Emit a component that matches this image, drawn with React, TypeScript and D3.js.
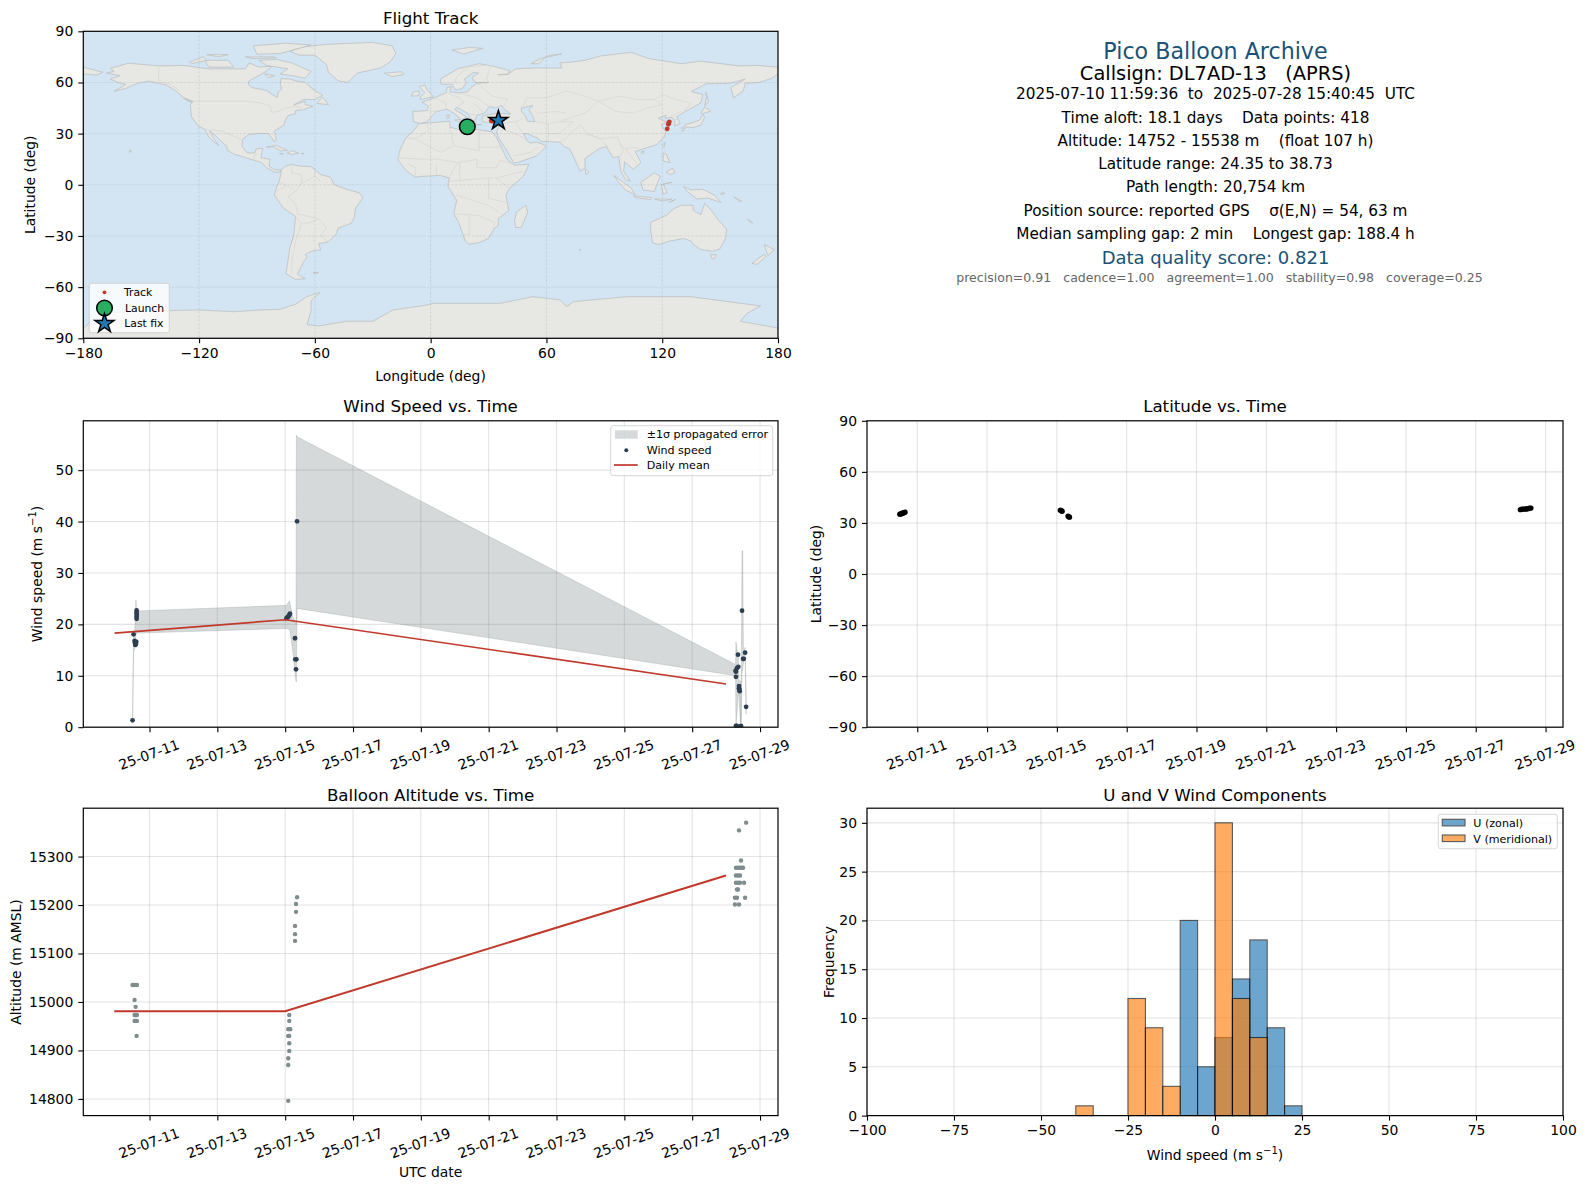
import * as d3 from "d3";
import { useEffect, useRef } from "react";

type Pt = [number, number];

// land outlines, [lon, lat]
const northAmerica: Pt[] = [[-168,65.5],[-164,66.5],[-166,68.3],[-156.5,71.3],[-141,69.7],[-128,70],[-115,68],[-108,68],[-96,68],[-94,71.5],[-89,69],[-82,69.5],[-86,66],[-94,61],[-94.5,58.7],[-92.5,57],[-85,55.3],[-82,52.9],[-79.5,51.3],[-79,54.5],[-77,56.5],[-78,59],[-77.5,62.3],[-73,62],[-70,61],[-65,60],[-61,56],[-56,52.5],[-60,50],[-66,50],[-71,46.8],[-65,49],[-65,47],[-61,46],[-66,44],[-70,43.5],[-70,41.7],[-74,40.5],[-75.5,37.5],[-76,35],[-81,31.5],[-80,26.5],[-81,25.2],[-82.7,28],[-84,30],[-89,30.2],[-94,29.5],[-97.3,27],[-97.8,22.5],[-95,18.7],[-91,18.7],[-90.5,21],[-87,21.5],[-88,16],[-83.3,15],[-83.8,11],[-81,9],[-77.5,8.7],[-78,7.5],[-81,7.5],[-85,10],[-87.5,13],[-92,14.5],[-96,16],[-102,18],[-105.5,20.5],[-105.5,22.5],[-109,26],[-112.5,30],[-114.7,31.7],[-112,26.5],[-109.7,23],[-112,25],[-115,28],[-117,32.5],[-120.5,34.5],[-124,40],[-124.5,47],[-123,49],[-128,51],[-132,55],[-137,58.5],[-146,60.8],[-152,59.5],[-158,56.5],[-164,54.8],[-158,58.8],[-162,60],[-166,62],[-161,64]];
const southAmerica: Pt[] = [[-77.5,8.7],[-75,11],[-72,12],[-68,11],[-62,10.7],[-57,6],[-52,4.5],[-50,0],[-44,-2.5],[-37,-4.7],[-35,-7.5],[-39,-14],[-39.5,-19],[-41,-22.5],[-48,-25.5],[-48.7,-28.5],[-53,-33.5],[-58,-34.5],[-57,-38],[-62,-39],[-65,-41],[-64,-42.5],[-66,-45.5],[-68,-50],[-69,-52.5],[-65,-55],[-70,-55.5],[-75,-52],[-74,-45],[-73,-37],[-71,-30],[-70,-18.5],[-76,-14],[-81,-6],[-80,-2],[-78.5,2],[-77.5,7]];
const africa: Pt[] = [[-6,35.8],[10,37.3],[10,33.8],[15,32.3],[19,30.3],[22,32.8],[32,31],[34,28],[37,21],[39.5,15],[43.3,11.5],[51,12],[48,5],[41,-2],[39,-6],[40.5,-15],[35,-20],[35,-24],[32.7,-26],[30,-31.5],[25,-34],[20,-34.8],[18,-33],[14.5,-22],[12,-17],[13.5,-9],[9,-1],[9.5,4],[5,5.5],[-4,5],[-8,4.5],[-13,8.5],[-17,14.7],[-16,20],[-13,27.5],[-9.5,31]];
const eurasia: Pt[] = [[-9,37],[-9.3,43],[-2,43.5],[-1,46],[-4.5,48.4],[2,51],[8,54],[8.5,57],[10.7,57.5],[10,54.5],[14,54],[19,54.5],[21,57],[24,59.5],[30,60],[23,60],[21.5,63],[25,65.5],[22,65.8],[17.5,62],[18.5,60],[16.5,56.5],[13,55.5],[11,59],[5.5,59],[5,62],[14,68],[25,71],[32,69.7],[41,67],[40,65],[35,64.5],[40,64.7],[44,68],[54,68.5],[68,68.5],[67,71.5],[73,72],[80,73],[88,75.5],[104,77.7],[113,74],[130,71],[140,72.5],[160,69.7],[170,70],[180,69],[180,65],[177,62.5],[170,60],[163,59.5],[162,55],[157,51],[155.5,57],[163,62],[155,59.5],[143,59.3],[135,54.7],[141,53],[140,48],[132,43],[127.5,39.8],[129.4,36],[126.5,34.5],[126.5,37.5],[125,39.7],[121.5,39],[122,40.8],[118,39],[122.5,37],[119.5,35],[122,31],[121,28],[117,23.5],[110,21],[106,19.5],[109,13],[105,9],[100.5,13.5],[100,8],[103.5,2],[101,3],[98.5,8],[97.5,16.5],[94.5,16],[91,22.5],[87,21],[80,15.5],[80,10],[77.5,8],[73,19],[72,21],[69,22.5],[67,25],[57,25.5],[56,27],[50,30],[48,30],[50,26],[51.5,24.5],[55,25],[58.7,23.5],[59.8,22.5],[55,17],[45,13],[43,13],[39,21],[35,28],[34.3,31.3],[36,36],[30,36.5],[27,37],[26.5,40],[29,41],[35,42],[41.5,41.5],[38,44.5],[37,46.5],[33.5,45],[30.5,46],[28,42],[24,40.8],[23,38],[23,36.7],[20,40],[19,42],[13.5,45.5],[12.5,44],[18.5,40],[16,38],[12,42],[8.5,44.3],[3,43],[0,39.5],[-2,36.8],[-5.5,36]];
const australia: Pt[] = [[114,-22],[122,-18],[126,-14],[130,-12],[136,-12],[136,-15],[140,-17.5],[142,-11],[145.5,-15],[149,-20.5],[153.3,-26],[153,-31],[150,-37.5],[146,-39],[140,-38],[136,-35],[135,-33],[131,-31.5],[124,-33],[118,-35],[115,-34],[114,-27]];
const antarctica: Pt[] = [[-180,-90],[-180,-84],[-170,-75],[-149,-74],[-119.5,-73.4],[-102,-74.4],[-88.5,-73.4],[-78,-73],[-70,-70],[-64,-65.5],[-57.5,-63.2],[-62,-68],[-62,-74],[-64,-82],[-58,-82.8],[-43.6,-80],[-30,-80],[-19.4,-73.4],[-2,-70.5],[1.4,-69.5],[36,-69.5],[53,-65.6],[67,-67.5],[70.5,-71.4],[74,-68.5],[101.9,-65.6],[134.7,-65.6],[171,-71],[164,-75.3],[160.5,-80],[180,-84],[180,-90]];
const islands: Pt[][] = [
  [[-73,78.3],[-66,80.8],[-55,82.3],[-30,83.5],[-20,81.5],[-18,77],[-21,72],[-26,68.5],[-38,65.5],[-43,60],[-48,61],[-53,66],[-54,70.5],[-60,76],[-68,76]],
  [[-80,73.5],[-72,71.5],[-62,66.5],[-65,62.5],[-72,64],[-78,65],[-74,68],[-85,70],[-89,73]],
  [[-117,73],[-105,73],[-102,69],[-115,69]],
  [[-90,76.5],[-78,77],[-62,82],[-75,83],[-92,81.5]],
  [[-125,72],[-118,75],[-116,73],[-124,71]],
  [[-96,75],[-82,75],[-80,74.5],[-92,74]],
  [[-116,76.3],[-105,76.3],[-110,75]],
  [[-86,65],[-81,64],[-84,62.8]],
  [[-59,47.7],[-56,51.5],[-53,47]],
  [[-128,50.8],[-123.5,48.4],[-125,48.7]],
  [[-85,22],[-80,23],[-74.2,20.2],[-77.7,19.9],[-82,22.4]],
  [[-74.4,18.5],[-72,20],[-68.4,18.6],[-71.5,17.8]],
  [[-78.3,18.4],[-76.3,18.2],[-77,17.8]],
  [[-67.2,18.5],[-65.7,18.3],[-66.5,17.9]],
  [[-156,19],[-155,19.8],[-156,20.3]],
  [[-180,69],[-175,67.5],[-170,66],[-173,64.3],[-180,65]],
  [[-5.5,50],[1.5,51.5],[0,53.5],[-2,56],[-3,58.6],[-6,57.5],[-3,54],[-5,52]],
  [[-10,52],[-6,52.3],[-6,55],[-9,54.5]],
  [[-24,65.5],[-15,66.3],[-14,64.7],[-20,63.4]],
  [[11,79],[20,80.5],[27,80],[17,76.7]],
  [[52,71],[57,74],[68,76.8],[60,75.5],[56,71]],
  [[12.5,38],[15.5,38.2],[15,36.7]],
  [[8.3,41],[9.7,41],[9.5,39.1],[8.5,39]],
  [[23.5,35.5],[26.3,35.2],[24.5,35]],
  [[32.4,35],[34.5,35.6],[33.5,34.6]],
  [[142,46],[143,52],[142.5,54.3],[144,49]],
  [[131,34],[136,33.5],[140,35],[142,39.5],[141,41.4],[139.5,38],[136,36.5],[132,35.3]],
  [[140,42],[142,45.5],[145.3,43.3],[141,41.8]],
  [[130,33.5],[131.7,33],[130.5,31]],
  [[120,23],[121.5,25],[121,22]],
  [[109,19],[110.7,20],[110,18.3]],
  [[80,9.5],[82,7.5],[80.5,6]],
  [[120.5,18.5],[122,18],[124,13],[120.5,14]],
  [[122,7.5],[125.5,9.7],[126.5,7],[124,6]],
  [[95,5.5],[104,-2],[106,-6],[101,-3],[97,2]],
  [[105,-6.5],[114.5,-7.5],[114,-8.7],[106,-7.5]],
  [[109,1.5],[116,7],[119,5],[117.5,1],[116,-4],[110,-3]],
  [[119.5,0],[125,1.5],[120.5,0.5],[122.5,-4.5],[120.5,-5.5]],
  [[131,-1],[135,-3],[141,-2.6],[147,-6],[150.5,-10.5],[144,-7.8],[138,-8.3],[133,-4]],
  [[123.5,-10.2],[127,-8.4],[125,-9.9]],
  [[116,-8.4],[120,-8.3],[125,-8.5],[120,-9.5]],
  [[150,-5.5],[152,-4.2],[152,-5.5]],
  [[157,-7],[161,-9.5],[160,-9.8]],
  [[145,-41],[148,-41],[147,-43.5],[146,-43.5]],
  [[173,-35],[178,-38],[175,-41.5],[174,-39]],
  [[172.5,-41],[174,-42],[169,-46.7],[166.5,-46]],
  [[164.3,-20.2],[167,-22.3],[166,-22.2]],
  [[49.3,-12],[50.3,-16],[47,-25],[44,-25],[43.5,-21],[44.5,-16]],
  [[-61,-51.5],[-58,-51.3],[-59,-52.3]],
  [[77,-38],[78,-38],[77.5,-38.6]],
];
const caspian: Pt[] = [[47,45],[53,46.5],[51,44],[53,40],[54,37],[50,37.3],[49,40.5],[47,43]];
const borders: Pt[][] = [
  [[-141,69.7],[-141,60.3],[-135,59],[-130,55]],
  [[-123,49],[-95,49],[-88,48],[-83,46],[-82.5,42.5],[-79,43],[-75,45],[-70,46],[-67,45]],
  [[-117,32.5],[-108,31.5],[-103,29],[-97.3,26]],
  [[-92,14.5],[-91,17.5],[-89,18]],
  [[-72,12],[-72,7],[-67,6],[-67,1],[-70,-4],[-74,-7],[-70,-11],[-69,-17],[-58,-20],[-54,-25],[-57,-30],[-53,-33.5]],
  [[-78.5,1.5],[-75,0],[-70,-4]],
  [[-80,-3.5],[-75,-1]],
  [[-70,-18.5],[-67,-23],[-70,-33],[-72,-45],[-72,-52]],
  [[-60,8],[-60,5],[-57,2]],
  [[-67,1],[-60,5]],
  [[-58,-20],[-62,-22],[-67,-23]],
  [[-2,35],[-1,32],[-8,27],[-13,27.5]],
  [[-8,27],[5,19],[12,23],[10,33.8]],
  [[12,23],[25,20],[25,31.5]],
  [[25,22],[37,22]],
  [[-17,16],[-5,15],[4,15],[14,13],[24,15],[24,10],[34,10],[36,14.5],[43,12]],
  [[-8,4.5],[-8,10],[-12,12.5]],
  [[3,6],[3,12]],
  [[9.5,4],[14,13]],
  [[15,3],[15,13]],
  [[9.5,2],[30,4],[34,4],[41,-2]],
  [[34,4],[48,8]],
  [[30,4],[30,-8],[40,-10.5]],
  [[13,-6],[30,-12],[35,-16]],
  [[12,-17],[25,-18],[33,-22],[32.7,-26]],
  [[20,-18],[20,-29],[17,-29]],
  [[-2,43.5],[3,43]],
  [[2,51],[8,48],[8,44]],
  [[8,54],[15,51],[17,48],[14,46]],
  [[14,54],[24,51],[30,46]],
  [[22,48],[28,42]],
  [[19,42],[23,41]],
  [[24,59.5],[28,56],[32,52],[40,50],[38,46.5]],
  [[31,70],[29,62],[30,60]],
  [[12,59],[14,64],[20,69],[28,70]],
  [[36,36],[44,37],[48,39]],
  [[44,37],[46,33],[48,30]],
  [[36,32],[39,32],[46,29],[51,25]],
  [[43,17],[52,19],[55,22]],
  [[61,25],[61,36],[54,37]],
  [[61,30],[66,30],[70,33],[74,37],[66,37],[61,36]],
  [[67,25],[71,28],[74,32],[78,35],[81,30],[88,27],[97,28]],
  [[81,30],[88,27]],
  [[47,45],[50,51],[60,51],[70,55],[77,53],[87,49],[98,52],[107,50],[116,50],[120,53],[127,50],[135,48],[131,43]],
  [[87,49],[80,42],[74,40],[67,37]],
  [[87,49],[96,43],[105,42],[112,45],[120,47],[116,50]],
  [[55,42],[66,43],[70,42]],
  [[88,27],[92,22]],
  [[97,28],[98,24],[101,21],[105,22],[108,21.5]],
  [[98,24],[100,20],[98,16]],
  [[101,21],[105,15],[107,12]],
  [[124.5,40],[130,43]],
  [[126,38],[128.5,38.5]],
];

// track and markers on the map
const trackLon = [31.4, 31.9, 123.7, 123.4, 123.2, 122.6];
const trackLat = [37.5, 37.3, 36.9, 36.2, 35.5, 32.8];
const launchLon = 19;
const launchLat = 34;
const lastLon = 35.1;
const lastLat = 38.3;

const mapLonTicks = [-180, -120, -60, 0, 60, 120, 180];
const mapLatTicks = [-90, -60, -30, 0, 30, 60, 90];
const dateTicks = [11, 13, 15, 17, 19, 21, 23, 25, 27, 29];

// info panel
const infoLines = [
  "2025-07-10 11:59:36  to  2025-07-28 15:40:45  UTC",
  "Time aloft: 18.1 days    Data points: 418",
  "Altitude: 14752 - 15538 m    (float 107 h)",
  "Latitude range: 24.35 to 38.73",
  "Path length: 20,754 km",
  "Position source: reported GPS    σ(E,N) = 54, 63 m",
  "Median sampling gap: 2 min    Longest gap: 188.4 h",
];

// wind speed, day of July 2025 and m/s
const windDay = [10.5,10.53,10.56,10.57,10.58,10.6,10.61,10.62,10.62,10.62,10.62,10.62,15.04,15.07,15.09,15.12,15.14,15.29,15.3,15.33,15.32,15.35,28.28,28.29,28.29,28.32,28.29,28.32,28.35,28.36,28.38,28.38,28.39,28.4,28.44,28.47,28.5,28.52,28.56,28.59];
const windSpeed = [1.34,18.07,16.8,16.4,16.0,16.2,16.6,22.7,22.3,21.9,21.5,21.1,21.2,21.4,21.5,21.8,22.1,17.3,13.2,13.2,11.26,40.05,11.0,10.8,9.8,11.5,0.25,0.25,14.1,11.75,8.0,7.6,7.3,7.0,0.25,22.66,13.3,13.3,14.5,3.96];
const windMeanDay = [9.97, 15.01, 28.0];
const windMean = [18.3, 20.9, 8.4];

// ±1 sigma band outline
const bandDay = [10.5,10.53,10.56,10.6,10.62,15.04,15.13,15.2,15.32,15.33,15.35,28.25,28.28,28.29,28.36,28.38,28.43,28.44,28.47,28.49,28.51,28.56,28.59];
const bandLow = [0.9,15,15,18,18.3,19.2,19,16,8.85,8.85,23.1,10.06,9.5,0,6.5,6,0,0,11,11,12.5,13.5,2.5];
const bandHigh = [1.8,18.5,18,24.75,22.6,23.7,24.6,22,20,56.8,56.5,12.3,12.3,16.6,13.5,9,9,1,34.3,34.3,14.2,15.5,5.5];

// latitude
const latDay = [10.5,10.53,10.56,10.59,10.62,10.65,15.1,15.13,15.15,15.32,15.34,15.36,28.28,28.32,28.36,28.42,28.46,28.5,28.54,28.58];
const latValue = [35.1,35.3,35.5,35.8,36.0,36.3,37.5,37.2,36.9,34.0,33.7,33.4,37.8,38.0,38.1,38.2,38.2,38.4,38.6,38.7];

// altitude
const altDay = [10.5,10.56,10.63,10.56,10.59,10.56,10.6,10.63,10.56,10.6,10.63,10.62,
  15.35,15.32,15.32,15.29,15.29,15.29,15.12,15.12,15.09,15.12,15.15,15.09,15.12,15.12,15.12,15.09,15.09,15.09,
  28.59,28.38,28.44,28.29,28.35,28.41,28.47,28.5,28.29,28.35,28.41,28.29,28.35,28.41,28.53,28.32,28.35,28.26,28.32,28.56,28.26,28.38];
const altValue = [15035,15035,15035,15004,14990,14973,14973,14973,14961,14961,14961,14930,
  15216,15202,15186,15157,15140,15126,14973,14961,14944,14944,14944,14930,14930,14915,14899,14884,14870,14796,
  15370,15354,15292,15277,15277,15277,15277,15277,15261,15261,15261,15246,15246,15246,15246,15232,15232,15215,15215,15215,15201,15201];
const altMeanDay = [9.96, 15.0, 27.995];
const altMean = [14981, 14981, 15261];

// histogram, 5 m/s bins
const uBinStart = [-10, -5, 0, 5, 10, 15, 20];
const uCounts = [20, 5, 8, 14, 18, 9, 1];
const vBinStart = [-40, -25, -20, -15, 0, 5, 10];
const vCounts = [1, 12, 9, 3, 30, 12, 8];

const FONT = "'DejaVu Sans', sans-serif";
const RED = "#c0392b";
const NAVY = "#2c3e50";
const GREY = "#7f8c8d";
const BLUE_TITLE = "#1a5276";

const julDay = (d: number) => new Date(Date.UTC(2025, 6, 1) + (d - 1) * 864e5);
const fmtDate = d3.utcFormat("%y-%m-%d");

const row1 = { top: 31.3, bottom: 338.3 };
const row2 = { top: 420.8, bottom: 727.2 };
const row3 = { top: 808.2, bottom: 1115.6 };
const col1 = { left: 83.3, right: 778 };
const col2 = { left: 867, right: 1563 };

const windX = d3.scaleUtc().domain([julDay(9.048), julDay(29.53)]).range([col1.left, col1.right]);
const latX = d3.scaleUtc().domain([julDay(9.56), julDay(29.5)]).range([col2.left, col2.right]);

function BottomAxis({ scale, y, values, format, rotated }: any) {
  const ref = useRef<SVGGElement>(null);
  useEffect(() => {
    const g = d3.select(ref.current!);
    g.call(d3.axisBottom(scale).tickValues(values).tickFormat(format).tickSize(5).tickSizeOuter(0).tickPadding(5) as any);
    g.select(".domain").remove();
    g.selectAll("line").attr("stroke", "#000").attr("stroke-width", 1.1);
    g.selectAll("text").attr("fill", "#000").attr("font-size", 13.9).attr("font-family", FONT);
    if (rotated) {
      g.selectAll("text")
        .attr("y", 0)
        .attr("dy", "0.35em")
        .attr("text-anchor", "middle")
        .attr("transform", "translate(-1,27.5) rotate(-20)");
    }
  }, []);
  return <g ref={ref} transform={`translate(0,${y})`} />;
}

function LeftAxis({ scale, x, values, format }: any) {
  const ref = useRef<SVGGElement>(null);
  useEffect(() => {
    const g = d3.select(ref.current!);
    const axis = d3.axisLeft(scale).tickValues(values).tickSize(5).tickSizeOuter(0).tickPadding(5);
    if (format) axis.tickFormat(format);
    g.call(axis as any);
    g.select(".domain").remove();
    g.selectAll("line").attr("stroke", "#000").attr("stroke-width", 1.1);
    g.selectAll("text").attr("fill", "#000").attr("font-size", 13.9).attr("font-family", FONT);
  }, []);
  return <g ref={ref} transform={`translate(${x},0)`} />;
}

function Grid({ x, y, xs, ys, col, row, dashed }: any) {
  const style = dashed
    ? { stroke: "#8a8f92", strokeOpacity: 0.3, strokeWidth: 0.7, strokeDasharray: "2.5 1.5" }
    : { stroke: "#b0b0b0", strokeOpacity: 0.35, strokeWidth: 1.1 };
  return (
    <g {...style}>
      {xs.map((v: any, i: number) => (
        <line key={i} x1={x(v)} x2={x(v)} y1={row.top} y2={row.bottom} />
      ))}
      {ys.map((v: number, i: number) => (
        <line key={i} x1={col.left} x2={col.right} y1={y(v)} y2={y(v)} />
      ))}
    </g>
  );
}

function Frame({ col, row }: any) {
  return (
    <rect x={col.left} y={row.top} width={col.right - col.left} height={row.bottom - row.top} fill="none" stroke="#000" strokeWidth={1.2} />
  );
}

function Label({ x, y, children, size = 13.9, rotate, fill = "#000", anchor = "middle" }: any) {
  return (
    <text
      x={x}
      y={y}
      fontSize={size}
      fill={fill}
      fontFamily={FONT}
      textAnchor={anchor}
      dominantBaseline="central"
      transform={rotate ? `rotate(${rotate} ${x} ${y})` : undefined}
      style={{ whiteSpace: "pre" }}
    >
      {children}
    </text>
  );
}

function WindUnit({ text }: { text: string }) {
  return (
    <>
      {text} (m s
      <tspan fontSize={10} dy={-5}>−1</tspan>
      <tspan dy={5}>)</tspan>
    </>
  );
}

function TrackMap() {
  const x = d3.scaleLinear().domain([-180, 180]).range([col1.left, col1.right]);
  const y = d3.scaleLinear().domain([-90, 90]).range([row1.bottom, row1.top]);
  const line = d3.line<Pt>().x((d) => x(d[0])).y((d) => y(d[1]));
  const closed = (p: Pt[]) => line(p)! + "Z";
  const land = [northAmerica, southAmerica, africa, eurasia, australia, antarctica, ...islands];
  const star = d3.symbol().type(d3.symbolStar).size(112)()!;
  return (
    <g>
      <clipPath id="mapClip">
        <rect x={col1.left} y={row1.top} width={col1.right - col1.left} height={row1.bottom - row1.top} />
      </clipPath>
      <rect x={col1.left} y={row1.top} width={col1.right - col1.left} height={row1.bottom - row1.top} fill="#d3e5f2" />
      <g clipPath="url(#mapClip)">
        {land.map((p, i) => (
          <path key={i} d={closed(p)} fill="#e7e7e3" stroke="#bcc0c2" strokeWidth={0.8} strokeLinejoin="round" />
        ))}
        <path d={closed(caspian)} fill="#d3e5f2" stroke="#bcc0c2" strokeWidth={0.8} />
        {borders.map((p, i) => (
          <path key={i} d={line(p)!} fill="none" stroke="#d5d6d3" strokeWidth={0.7} />
        ))}
      </g>
      <Grid x={x} y={y} xs={mapLonTicks} ys={mapLatTicks} col={col1} row={row1} dashed />
      {trackLon.map((v, i) => (
        <circle key={i} cx={x(v)} cy={y(trackLat[i])} r={2.4} fill={RED} />
      ))}
      <circle cx={x(launchLon)} cy={y(launchLat)} r={7.8} fill="#27ae60" stroke="#000" strokeWidth={1.5} />
      <path d={star} transform={`translate(${x(lastLon)},${y(lastLat) + 1})`} fill="#1f77b4" stroke="#000" strokeWidth={1.5} strokeLinejoin="miter" />
      <Frame col={col1} row={row1} />
      <BottomAxis scale={x} y={row1.bottom} values={mapLonTicks} format={d3.format("d")} />
      <LeftAxis scale={y} x={col1.left} values={mapLatTicks} />
      <Label x={430.6} y={18} size={16.67}>Flight Track</Label>
      <Label x={430.6} y={375.5}>Longitude (deg)</Label>
      <Label x={30.5} y={184.8} rotate={-90}>Latitude (deg)</Label>
      <rect x={89.3} y={283.3} width={80} height={49.4} rx={2.5} fill="#fff" fillOpacity={0.8} stroke="#ccc" strokeWidth={0.8} />
      <circle cx={104.5} cy={292.3} r={1.9} fill={RED} />
      <circle cx={104.5} cy={308} r={7.8} fill="#27ae60" stroke="#000" strokeWidth={1.5} />
      <path d={star} transform="translate(104.5,323.5)" fill="#1f77b4" stroke="#000" strokeWidth={1.5} />
      <Label x={124} y={292.3} size={10.8} anchor="start">Track</Label>
      <Label x={125} y={308} size={10.8} anchor="start">Launch</Label>
      <Label x={124.3} y={323} size={10.8} anchor="start">Last fix</Label>
    </g>
  );
}

function InfoPanel() {
  const cx = 1215.5;
  const lineY = d3.scaleLinear().domain([0, infoLines.length - 1]).range([94.4, 233.8]);
  return (
    <g>
      <Label x={cx} y={50.7} size={22.2} fill={BLUE_TITLE}>Pico Balloon Archive</Label>
      <Label x={cx} y={73} size={19.4}>Callsign: DL7AD-13   (APRS)</Label>
      {infoLines.map((t, i) => (
        <Label key={i} x={cx} y={lineY(i)} size={15.28}>{t}</Label>
      ))}
      <Label x={cx} y={257.3} size={18} fill={BLUE_TITLE}>Data quality score: 0.821</Label>
      <Label x={1219.5} y={277.3} size={12.55} fill="#666">precision=0.91   cadence=1.00   agreement=1.00   stability=0.98   coverage=0.25</Label>
    </g>
  );
}

function WindPanel() {
  const y = d3.scaleLinear().domain([0, 59.6]).range([row2.bottom, row2.top]);
  const yTicks = [0, 10, 20, 30, 40, 50];
  const xTicks = dateTicks.map(julDay);
  const idx = d3.range(bandDay.length);
  const band = d3.area<number>()
    .x((i) => windX(julDay(bandDay[i])))
    .y0((i) => y(bandLow[i]))
    .y1((i) => y(bandHigh[i]));
  const mean = d3.line<number>()
    .x((i) => windX(julDay(windMeanDay[i])))
    .y((i) => y(windMean[i]));
  return (
    <g>
      <clipPath id="windClip">
        <rect x={col1.left} y={row2.top} width={col1.right - col1.left} height={row2.bottom - row2.top} />
      </clipPath>
      <Grid x={windX} y={y} xs={xTicks} ys={yTicks} col={col1} row={row2} />
      <g clipPath="url(#windClip)">
        <path d={band(idx)!} fill={GREY} fillOpacity={0.33} stroke={GREY} strokeOpacity={0.25} strokeWidth={1} />
        {windDay.map((d, i) => (
          <circle key={i} cx={windX(julDay(d))} cy={y(windSpeed[i])} r={2.4} fill={NAVY} />
        ))}
        <path d={mean(d3.range(windMean.length))!} fill="none" stroke={RED} strokeWidth={1.7} />
      </g>
      <Frame col={col1} row={row2} />
      <BottomAxis scale={windX} y={row2.bottom} values={xTicks} format={fmtDate} rotated />
      <LeftAxis scale={y} x={col1.left} values={yTicks} />
      <Label x={430.6} y={406} size={16.67}>Wind Speed vs. Time</Label>
      <Label x={37.4} y={574} rotate={-90}><WindUnit text="Wind speed" /></Label>
      <rect x={610.7} y={425.7} width={162} height={50} rx={2.5} fill="#fff" fillOpacity={0.8} stroke="#ccc" strokeWidth={0.8} />
      <rect x={615} y={430.3} width={22.7} height={8.4} fill={GREY} fillOpacity={0.33} />
      <circle cx={626.3} cy={450.3} r={2} fill={NAVY} />
      <line x1={614} x2={637.7} y1={465} y2={465} stroke={RED} strokeWidth={1.7} />
      <Label x={646.7} y={434.7} size={11.1} anchor="start">±1σ propagated error</Label>
      <Label x={646.7} y={450.3} size={11.1} anchor="start">Wind speed</Label>
      <Label x={646.7} y={465} size={11.1} anchor="start">Daily mean</Label>
    </g>
  );
}

function LatitudePanel() {
  const y = d3.scaleLinear().domain([-90, 90]).range([row2.bottom, row2.top]);
  const xTicks = dateTicks.map(julDay);
  return (
    <g>
      <Grid x={latX} y={y} xs={xTicks} ys={mapLatTicks} col={col2} row={row2} />
      {latDay.map((d, i) => (
        <circle key={i} cx={latX(julDay(d))} cy={y(latValue[i])} r={2.7} fill="#000" />
      ))}
      <Frame col={col2} row={row2} />
      <BottomAxis scale={latX} y={row2.bottom} values={xTicks} format={fmtDate} rotated />
      <LeftAxis scale={y} x={col2.left} values={mapLatTicks} />
      <Label x={1215} y={406} size={16.67}>Latitude vs. Time</Label>
      <Label x={816} y={574} rotate={-90}>Latitude (deg)</Label>
    </g>
  );
}

function AltitudePanel() {
  const y = d3.scaleLinear().domain([14765.6, 15399.8]).range([row3.bottom, row3.top]);
  const yTicks = [14800, 14900, 15000, 15100, 15200, 15300];
  const xTicks = dateTicks.map(julDay);
  const mean = d3.line<number>()
    .x((i) => windX(julDay(altMeanDay[i])))
    .y((i) => y(altMean[i]));
  return (
    <g>
      <Grid x={windX} y={y} xs={xTicks} ys={yTicks} col={col1} row={row3} />
      {altDay.map((d, i) => (
        <circle key={i} cx={windX(julDay(d))} cy={y(altValue[i])} r={2.2} fill={GREY} />
      ))}
      <path d={mean(d3.range(altMean.length))!} fill="none" stroke={RED} strokeWidth={2} />
      <Frame col={col1} row={row3} />
      <BottomAxis scale={windX} y={row3.bottom} values={xTicks} format={fmtDate} rotated />
      <LeftAxis scale={y} x={col1.left} values={yTicks} format={d3.format("d")} />
      <Label x={430.6} y={795.3} size={16.67}>Balloon Altitude vs. Time</Label>
      <Label x={16} y={962} rotate={-90}>Altitude (m AMSL)</Label>
      <Label x={430.6} y={1172}>UTC date</Label>
    </g>
  );
}

function HistPanel() {
  const x = d3.scaleLinear().domain([-100, 100]).range([col2.left, col2.right]);
  const y = d3.scaleLinear().domain([0, 31.5]).range([row3.bottom, row3.top]);
  const xTicks = [-100, -75, -50, -25, 0, 25, 50, 75, 100];
  const yTicks = [0, 5, 10, 15, 20, 25, 30];
  const bars = (starts: number[], counts: number[], color: string) =>
    starts.map((s, i) => (
      <rect key={s} x={x(s)} y={y(counts[i])} width={x(s + 5) - x(s)} height={y(0) - y(counts[i])} fill={color} stroke="#000" strokeWidth={1.1} opacity={0.65} />
    ));
  return (
    <g>
      <Grid x={x} y={y} xs={xTicks} ys={yTicks} col={col2} row={row3} />
      {bars(uBinStart, uCounts, "#1f77b4")}
      {bars(vBinStart, vCounts, "#ff7f0e")}
      <Frame col={col2} row={row3} />
      <BottomAxis scale={x} y={row3.bottom} values={xTicks} format={d3.format("d")} />
      <LeftAxis scale={y} x={col2.left} values={yTicks} />
      <Label x={1215} y={795.3} size={16.67}>U and V Wind Components</Label>
      <Label x={829} y={962} rotate={-90}>Frequency</Label>
      <Label x={1215} y={1155}><WindUnit text="Wind speed" /></Label>
      <rect x={1438.3} y={814.3} width={119} height={34.4} rx={2.5} fill="#fff" fillOpacity={0.8} stroke="#ccc" strokeWidth={0.8} />
      <rect x={1442.3} y={819.3} width={22.7} height={6.6} fill="#1f77b4" stroke="#000" strokeWidth={1.1} opacity={0.65} />
      <rect x={1442.3} y={835} width={22.7} height={6.6} fill="#ff7f0e" stroke="#000" strokeWidth={1.1} opacity={0.65} />
      <Label x={1473.3} y={823.7} size={11.1} anchor="start">U (zonal)</Label>
      <Label x={1473.3} y={839.7} size={11.1} anchor="start">V (meridional)</Label>
    </g>
  );
}

export default function App() {
  return (
    <svg width={1586} height={1189} style={{ position: "absolute", left: 0, top: 0, background: "#fff" }}>
      <TrackMap />
      <InfoPanel />
      <WindPanel />
      <LatitudePanel />
      <AltitudePanel />
      <HistPanel />
    </svg>
  );
}
